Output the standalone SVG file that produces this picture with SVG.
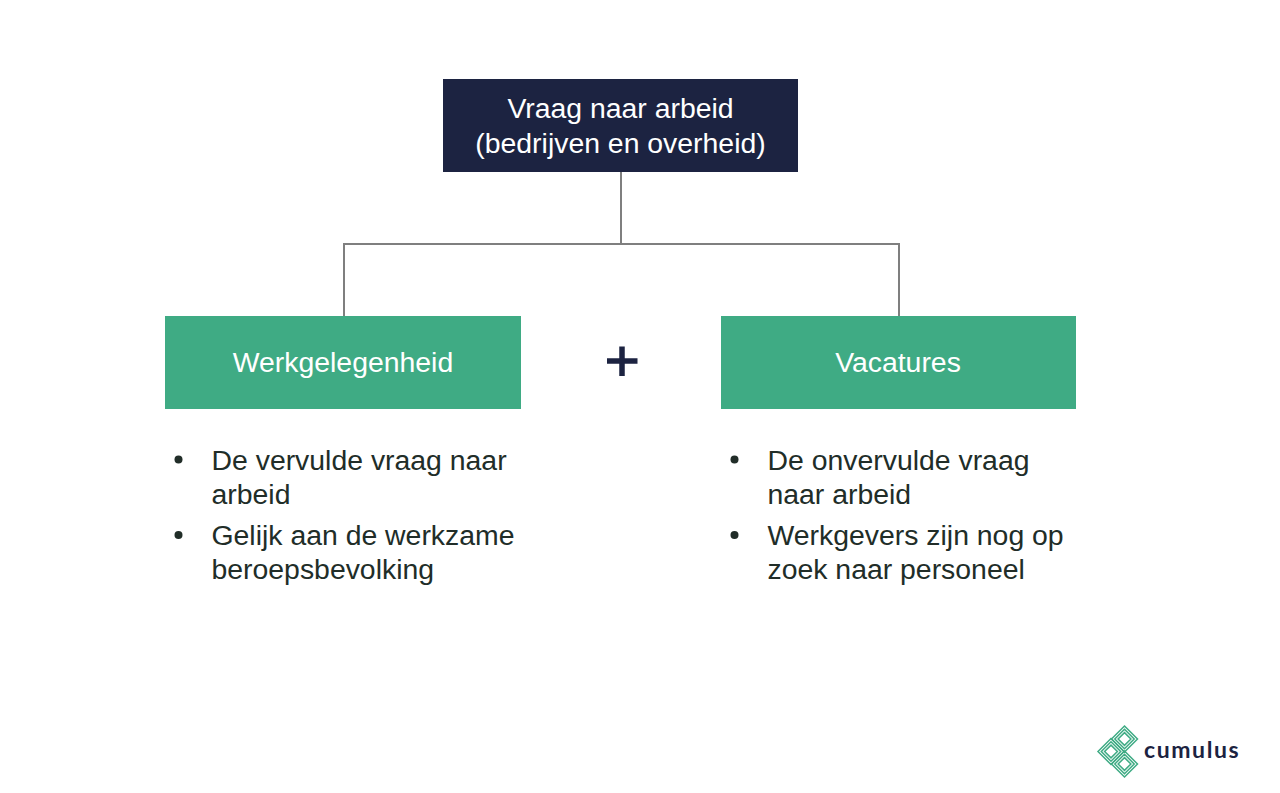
<svg xmlns="http://www.w3.org/2000/svg" width="1280" height="793" viewBox="0 0 1280 793">
<style>
text{font-family:"Liberation Sans",Arial,sans-serif}
.w{fill:#fff;font-size:28.400px;text-anchor:middle}
.b{fill:#212d28;font-size:28.400px}
.c{fill:none;stroke:#7f7f7f;stroke-width:2}
.l{fill:none;stroke:#3fab84;stroke-width:1.500}
</style>
<defs>
<path id="ring" class="l" d="M0-13L13 0L0 13L-13 0ZM0-9.700L9.700 0L0 9.700L-9.700 0ZM0-6.400L6.400 0L0 6.400L-6.400 0Z"/>
</defs>
<rect width="1280" height="793" fill="#fff"/>
<g id="connectors">
<path class="c" d="M621 172V244M344 316V244H899V316"/>
</g>
<g id="node-vraag">
<rect x="443" y="79" width="355" height="93" fill="#1c2341"/>
<text class="w" x="620.500" y="118">Vraag naar arbeid</text>
<text class="w" x="620.500" y="153">(bedrijven en overheid)</text>
</g>
<g id="node-werkgelegenheid">
<rect x="165" y="316" width="356" height="93" fill="#3fab84"/>
<text class="w" x="343" y="372">Werkgelegenheid</text>
</g>
<g id="node-vacatures">
<rect x="721" y="316" width="355" height="93" fill="#3fab84"/>
<text class="w" x="898" y="372">Vacatures</text>
</g>
<g id="plus">
<path d="M622 346.500V376M607 361H637.500" fill="none" stroke="#1c2341" stroke-width="5.500"/>
</g>
<g id="list-left">
<circle cx="178.500" cy="459.500" r="4" fill="#212d28"/>
<text class="b" x="211.500" y="470">De vervulde vraag naar</text>
<text class="b" x="211.500" y="504">arbeid</text>
<circle cx="178.500" cy="535" r="4" fill="#212d28"/>
<text class="b" x="211.500" y="545">Gelijk aan de werkzame</text>
<text class="b" x="211.500" y="579">beroepsbevolking</text>
</g>
<g id="list-right">
<circle cx="734.500" cy="459.500" r="4" fill="#212d28"/>
<text class="b" x="767.500" y="470">De onvervulde vraag</text>
<text class="b" x="767.500" y="504">naar arbeid</text>
<circle cx="734.500" cy="535" r="4" fill="#212d28"/>
<text class="b" x="767.500" y="545">Werkgevers zijn nog op</text>
<text class="b" x="767.500" y="579">zoek naar personeel</text>
</g>
<g id="logo">
<use href="#ring" x="1124.500" y="739"/>
<use href="#ring" x="1111" y="751.500"/>
<use href="#ring" x="1124.500" y="764"/>
<text x="1144" y="758" font-size="23" font-weight="700" fill="#1c2341" letter-spacing="1.600" style="font-family:Lato,'Liberation Sans',sans-serif">cumulus</text>
</g>
</svg>
